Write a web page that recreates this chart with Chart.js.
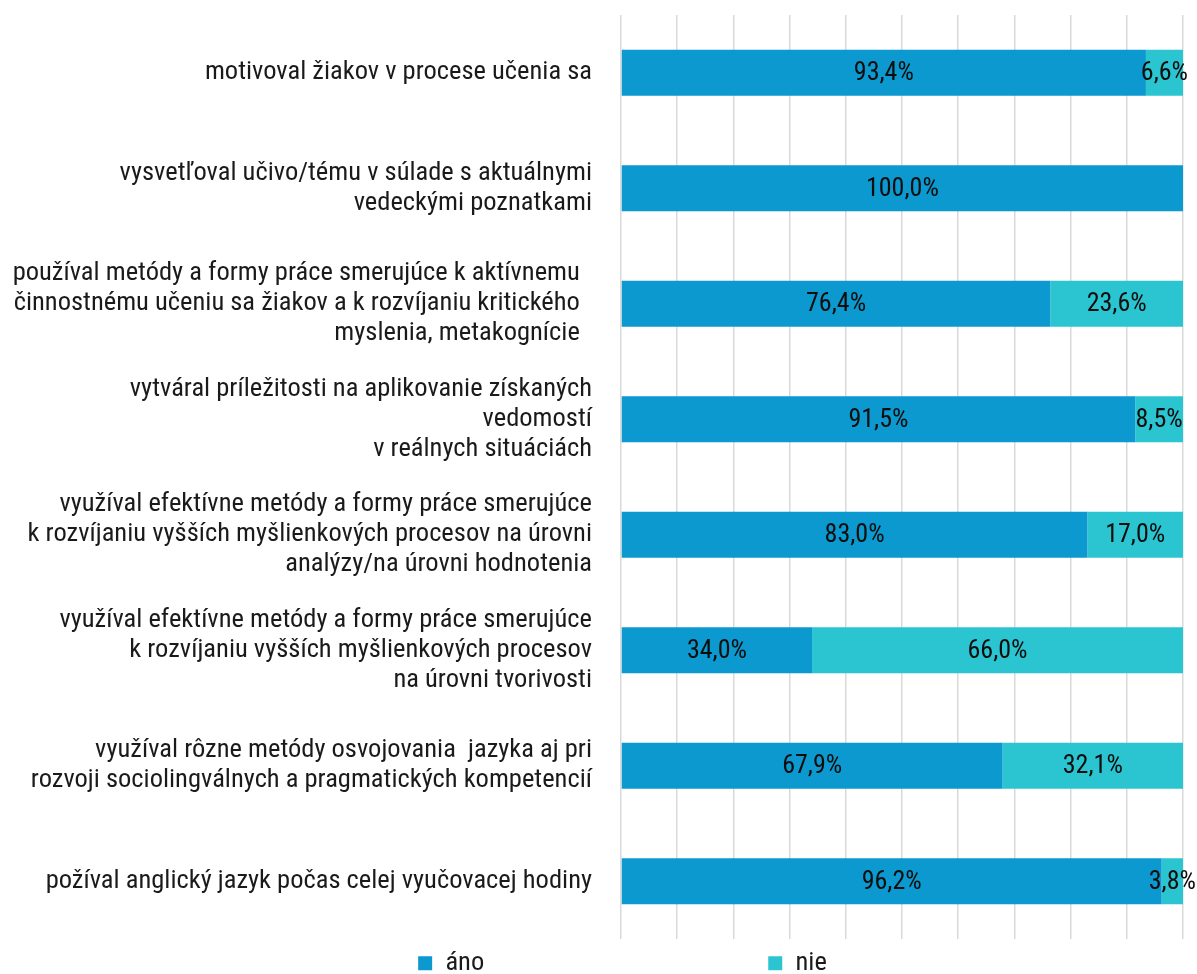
<!DOCTYPE html>
<html>
<head>
<meta charset="utf-8">
<script src="https://cdn.jsdelivr.net/npm/chart.js@4"></script>
<style>
  html, body { margin: 0; padding: 0; background: #fff; }
  #wrap { width: 1197px; height: 974px; position: relative; }
</style>
</head>
<body>
<div id="wrap"><canvas id="chart"></canvas></div>
<script>
// Survey answers (percent), one row per statement
const categories = [
  'motivoval žiakov v procese učenia sa',
  ['vysvetľoval učivo/tému v súlade s aktuálnymi', 'vedeckými poznatkami'],
  ['používal metódy a formy práce smerujúce k aktívnemu  ', 'činnostnému učeniu sa žiakov a k rozvíjaniu kritického  ', 'myslenia, metakognície  '],
  ['vytváral príležitosti na aplikovanie získaných', 'vedomostí', 'v reálnych situáciách'],
  ['využíval efektívne metódy a formy práce smerujúce', 'k rozvíjaniu vyšších myšlienkových procesov na úrovni', 'analýzy/na úrovni hodnotenia'],
  ['využíval efektívne metódy a formy práce smerujúce', 'k rozvíjaniu vyšších myšlienkových procesov', 'na úrovni tvorivosti'],
  ['využíval rôzne metódy osvojovania  jazyka aj pri', 'rozvoji sociolingválnych a pragmatických kompetencií'],
  'požíval anglický jazyk počas celej vyučovacej hodiny',
];
const anoValues = [93.4, 100.0, 76.4, 91.5, 83.0, 34.0, 67.9, 96.2];
const nieValues = [6.6, 0, 23.6, 8.5, 17.0, 66.0, 32.1, 3.8];
const seriesNames = ['áno', 'nie'];

const FONT = 'Roboto';
const COND = '400 condensed';
const TEXT_SIZE = 26.5;
const LEGEND_GAP = 284;

// Draws the percentage in the middle of each bar segment
const segmentLabels = {
  id: 'segmentLabels',
  afterDatasetsDraw(chart) {
    const ctx = chart.ctx;
    ctx.save();
    ctx.font = `${COND} 26px ${FONT}`;
    ctx.fillStyle = '#0d0d0d';
    ctx.textAlign = 'center';
    ctx.textBaseline = 'middle';
    chart.data.datasets.forEach((ds, i) => {
      const meta = chart.getDatasetMeta(i);
      meta.data.forEach((bar, j) => {
        const v = ds.data[j];
        if (!v) return;
        const { x, base, y } = bar.getProps(['x', 'base', 'y'], true);
        ctx.fillText(v.toFixed(1).replace('.', ',') + '%', (x + base) / 2, y + 1);
      });
    });
    ctx.restore();
  },
};

// Legend items are spread wide and sit a little right of centre;
// the wide label padding is only wanted horizontally, so pull the box up.
const legendPlace = {
  id: 'legendPlace',
  afterLayout(chart) {
    const lg = chart.legend;
    lg.left += 31;
    lg.right += 31;
    lg.top = chart.chartArea.bottom + 11 - LEGEND_GAP;
  },
};

new Chart(document.getElementById('chart'), {
  type: 'bar',
  data: {
    labels: categories,
    datasets: [
      { label: seriesNames[0], data: anoValues, backgroundColor: '#0b99cf' },
      { label: seriesNames[1], data: nieValues, backgroundColor: '#2bc5d1' },
    ],
  },
  options: {
    indexAxis: 'y',
    responsive: true,
    maintainAspectRatio: false,
    animation: false,
    datasets: { bar: { categoryPercentage: 0.8, barPercentage: 0.5 } },
    layout: { padding: { top: 15, right: 14, left: 0, bottom: 0 } },
    plugins: {
      legend: {
        position: 'bottom',
        maxHeight: 35,
        labels: {
          boxWidth: 14,
          boxHeight: 14,
          padding: LEGEND_GAP,
          color: '#1a1a1a',
          font: { family: FONT, size: TEXT_SIZE, weight: COND },
        },
      },
      tooltip: { enabled: false },
    },
    scales: {
      x: {
        stacked: true,
        min: 0,
        max: 100,
        ticks: { display: false, stepSize: 10 },
        grid: { color: '#d9d9d9', lineWidth: 1.5, drawTicks: false },
        border: { display: false },
      },
      y: {
        stacked: true,
        ticks: {
          autoSkip: false,
          color: '#1a1a1a',
          padding: 29,
          font: { family: FONT, size: TEXT_SIZE, weight: COND, lineHeight: 30 / TEXT_SIZE },
        },
        grid: { display: false, drawTicks: false },
        border: { display: false },
        afterFit(scale) {
          scale.width = 621;
          scale.paddingTop = 0;
          scale.paddingBottom = 0;
        },
      },
    },
  },
  plugins: [segmentLabels, legendPlace],
});
</script>
</body>
</html>
